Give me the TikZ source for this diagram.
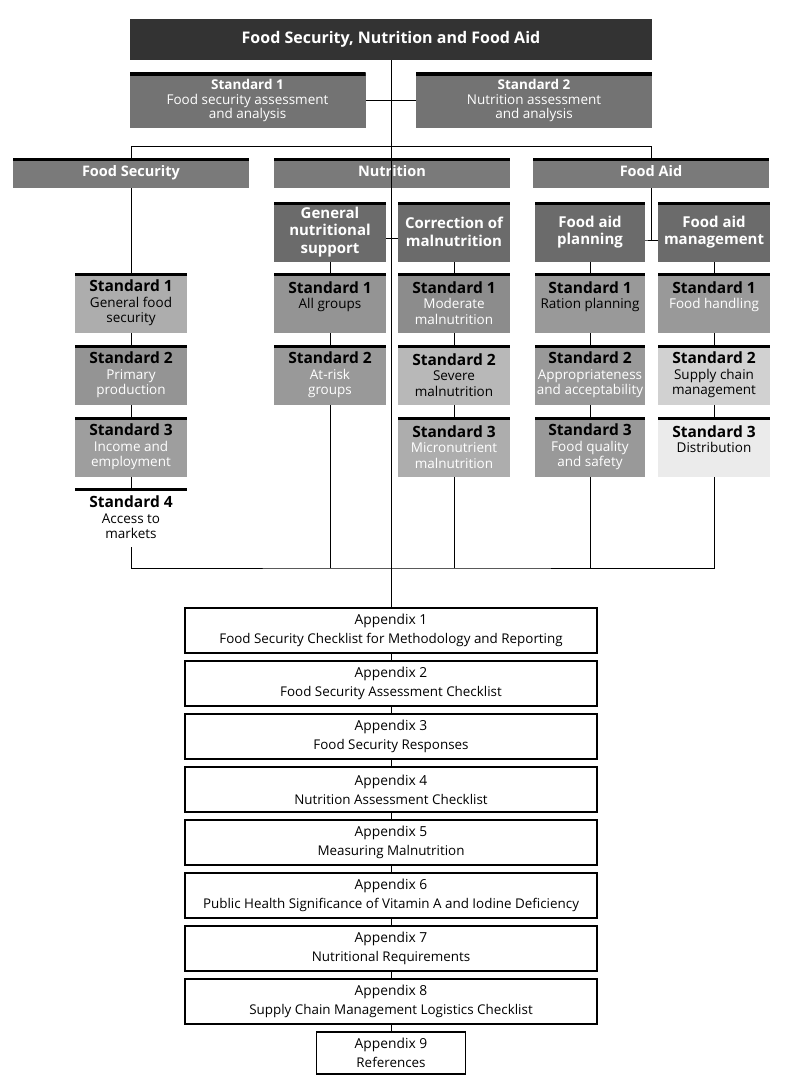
\documentclass[tikz,border=0pt]{standalone}
\usepackage{fontspec}
\setmainfont{Open Sans}
\usetikzlibrary{positioning}
\tikzset{
  every node/.style={inner sep=0pt, outer sep=0pt},
  topbar/.style={path picture={\draw[line width=6pt] (path picture bounding box.north west) -- (path picture bounding box.north east);}},
  link/.style={line width=0.8pt},
  headbox/.style={fill=black!80, text=white, minimum width=522pt, minimum height=41pt, text height=11.5pt, text depth=3.5pt, font=\bfseries\fontsize{16}{18}\selectfont},
  keystd/.style={topbar, fill=black!55, text=white, align=center, minimum width=236pt, minimum height=55pt, font=\fontsize{13.5}{14.5}\selectfont},
  sector/.style={topbar, fill=black!52, text=white, minimum width=236pt, minimum height=30pt, text height=10.5pt, text depth=3.5pt, font=\bfseries\fontsize{14.5}{16}\selectfont},
  topicbox/.style={topbar, fill=black!58, text=white, align=center, minimum width=112pt, minimum height=60pt, font=\bfseries\fontsize{15}{17.5}\selectfont},
  stdbox/.style={topbar, fill=black!#1, align=center, minimum width=112pt, minimum height=60pt, font=\fontsize{13.5}{15.5}\selectfont},
  appbox/.style={draw, line width=1.2pt, align=center, minimum width=412pt, minimum height=45pt, font=\fontsize{13.4}{19}\selectfont}
}
\newcommand\stdtitle[1]{{\bfseries\fontsize{15.5}{15.5}\selectfont Standard #1}}
\newcommand\apphead[1]{{\fontsize{13.8}{19}\selectfont Appendix #1}}
\newcommand\lite[1]{\textcolor{white}{#1}}

\begin{document}
\begin{tikzpicture}[x=1pt, y=-1pt]
\useasboundingbox (0,0) rectangle (787,1089);

\node[headbox] (main) at (391,40) {Food Security, Nutrition and Food Aid};
\node[keystd] (sfs) at (247.5,100.5) {\textbf{Standard 1}\\Food security assessment\\and analysis};
\node[keystd] (sna) at (534,100.5) {\textbf{Standard 2}\\Nutrition assessment\\and analysis};

\node[sector] (fsec) at (131,173) {Food Security};
\node[sector] (nutr) at (392,173) {Nutrition};
\node[sector] (faid) at (651,173) {Food Aid};

\node[topicbox] (gns) at (330,232) {General\\nutritional\\support};
\node[topicbox] (corr) at (454,232) {Correction of\\malnutrition};
\node[topicbox, minimum width=110pt] (fap) at (590,232) {Food aid\\planning};
\node[topicbox] (fam) at (714,232) {Food aid\\management};

\node[stdbox=32] (fs1) at (131,303) {\stdtitle{1}\\General food\\security};
\node[stdbox=42, below=12pt of fs1] (fs2) {\stdtitle{2}\\\lite{Primary}\\\lite{production}};
\node[stdbox=38, below=12pt of fs2] (fs3) {\stdtitle{3}\\\lite{Income and}\\\lite{employment}};
\node[stdbox=0, below=11pt of fs3, minimum height=59pt] (fs4) {\stdtitle{4}\\Access to\\markets};

\node[stdbox=42, below=11pt of gns] (nu1) {\stdtitle{1}\\All groups\\\mbox{}};
\node[stdbox=40, below=12pt of nu1] (nu2) {\stdtitle{2}\\\lite{At-risk}\\\lite{groups}};

\node[stdbox=45, below=11pt of corr] (co1) {\stdtitle{1}\\\lite{Moderate}\\\lite{malnutrition}};
\node[stdbox=28, below=12pt of co1] (co2) {\stdtitle{2}\\Severe\\malnutrition};
\node[stdbox=32, below=12pt of co2] (co3) {\stdtitle{3}\\\lite{Micronutrient}\\\lite{malnutrition}};

\node[stdbox=40, minimum width=110pt, below=11pt of fap] (pl1) {\stdtitle{1}\\Ration planning\\\mbox{}};
\node[stdbox=40, minimum width=110pt, below=12pt of pl1] (pl2) {\stdtitle{2}\\\lite{Appropriateness}\\\lite{and acceptability}};
\node[stdbox=40, minimum width=110pt, below=12pt of pl2] (pl3) {\stdtitle{3}\\\lite{Food quality}\\\lite{and safety}};

\node[stdbox=40, below=11pt of fam] (ma1) {\stdtitle{1}\\\lite{Food handling}\\\mbox{}};
\node[stdbox=18, below=12pt of ma1] (ma2) {\stdtitle{2}\\Supply chain\\management};
\node[stdbox=8, below=12pt of ma2] (ma3) {\stdtitle{3}\\Distribution\\\mbox{}};

\node[appbox] (app1) at (391,630.5) {\apphead{1}\\Food Security Checklist for Methodology and Reporting};
\node[appbox, below=8pt of app1] (app2) {\apphead{2}\\Food Security Assessment Checklist};
\node[appbox, below=8pt of app2] (app3) {\apphead{3}\\Food Security Responses};
\node[appbox, below=8pt of app3] (app4) {\apphead{4}\\Nutrition Assessment Checklist};
\node[appbox, below=8pt of app4] (app5) {\apphead{5}\\Measuring Malnutrition};
\node[appbox, below=8pt of app5] (app6) {\apphead{6}\\Public Health Significance of Vitamin A and Iodine Deficiency};
\node[appbox, below=8pt of app6] (app7) {\apphead{7}\\Nutritional Requirements};
\node[appbox, below=8pt of app7] (app8) {\apphead{8}\\Supply Chain Management Logistics Checklist};
\node[appbox, below=8pt of app8, minimum width=149pt, minimum height=42pt] (app9) {\apphead{9}\\References};

\coordinate (base) at (391,568);

\draw[link] (sfs.east) -- (sna.west);
\draw[link] (fsec.north) -- ++(0,-12) -| (faid.north);
\draw[link] ([yshift=-6pt]gns.east) -- ([yshift=-6pt]corr.west);
\draw[link] (faid.south) |- ([yshift=-8pt]fap.east) -- ([yshift=-8pt]fam.west);
\draw[link] (fsec.south) -- (fs1.north);
\foreach \a/\b in {fs1/fs2, fs2/fs3, fs3/fs4, gns/nu1, nu1/nu2, corr/co1, co1/co2, co2/co3,
                   fap/pl1, pl1/pl2, pl2/pl3, fam/ma1, ma1/ma2, ma2/ma3}
  \draw[link] (\a.south) -- (\b.north);
\draw[link] (fs4.south) |- (base) -| (ma3.south);
\foreach \c in {nu2, co3, pl3}
  \draw[link] (\c.south) -- (\c.south |- base);
\draw[link] (main.south) -- (app1.north);
\foreach \a/\b in {1/2, 2/3, 3/4, 4/5, 5/6, 6/7, 7/8, 8/9}
  \draw[link] (app\a.south) -- (app\b.north);
\end{tikzpicture}
\end{document}
